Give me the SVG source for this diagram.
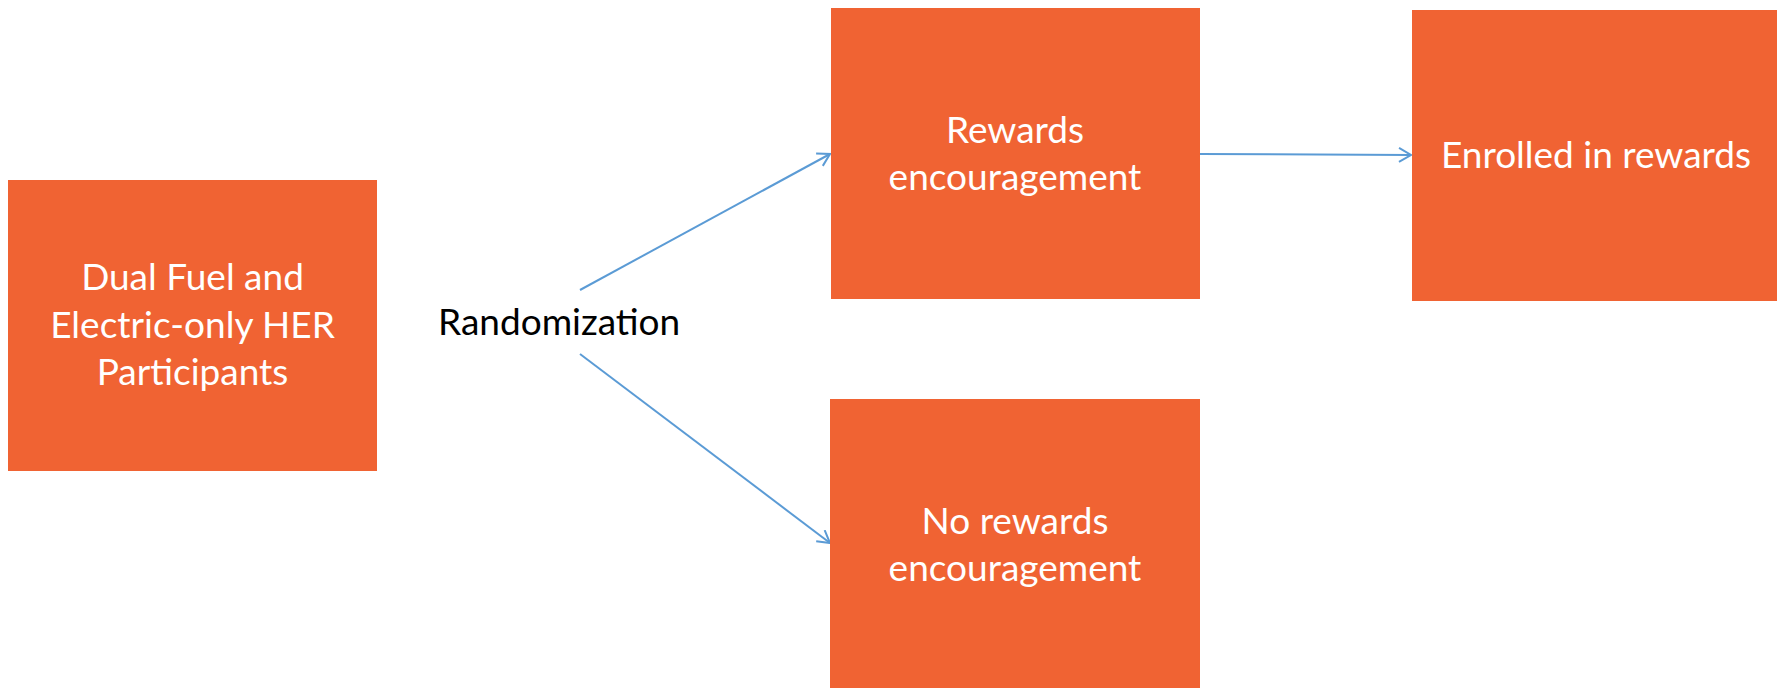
<svg xmlns="http://www.w3.org/2000/svg" width="1777" height="688" viewBox="0 0 1777 688">
<style>
.box{fill:#F06333}
.t{font-family:Lato,"Open Sans","Liberation Sans",sans-serif;font-size:37px;fill:#FFFFFF;text-anchor:middle}
.lbl{font-family:Lato,"Open Sans","Liberation Sans",sans-serif;font-size:37px;fill:#000000}
.c{stroke:#5B9BD5;stroke-width:2;fill:none}
</style>
<defs>
<marker id="arr" markerWidth="16" markerHeight="16" refX="14" refY="8" orient="auto" markerUnits="userSpaceOnUse">
<path d="M2,1 L14,8 L2,15" fill="none" stroke="#5B9BD5" stroke-width="2"/>
</marker>
</defs>
<rect width="1777" height="688" fill="#FFFFFF"/>
<g id="connectors">
<line class="c" x1="580" y1="290" x2="830" y2="154" marker-end="url(#arr)"/>
<line class="c" x1="580" y1="354" x2="830" y2="543" marker-end="url(#arr)"/>
<line class="c" x1="1200" y1="154" x2="1411" y2="155" marker-end="url(#arr)"/>
</g>
<g id="participants">
<rect class="box" x="8" y="180" width="369" height="291"/>
<text class="t" x="192.5" y="290">Dual Fuel and</text>
<text class="t" x="192.5" y="338">Electric-only HER</text>
<text class="t" x="192.5" y="385">Participants</text>
</g>
<g id="randomization">
<text class="lbl" x="438" y="335">Randomization</text>
</g>
<g id="rewards-encouragement">
<rect class="box" x="831" y="8" width="369" height="291"/>
<text class="t" x="1015" y="143">Rewards</text>
<text class="t" x="1015" y="190">encouragement</text>
</g>
<g id="enrolled">
<rect class="box" x="1412" y="10" width="365" height="291"/>
<text class="t" x="1596" y="168">Enrolled in rewards</text>
</g>
<g id="no-rewards">
<rect class="box" x="830" y="399" width="370" height="289"/>
<text class="t" x="1015" y="534">No rewards</text>
<text class="t" x="1015" y="581">encouragement</text>
</g>
</svg>
